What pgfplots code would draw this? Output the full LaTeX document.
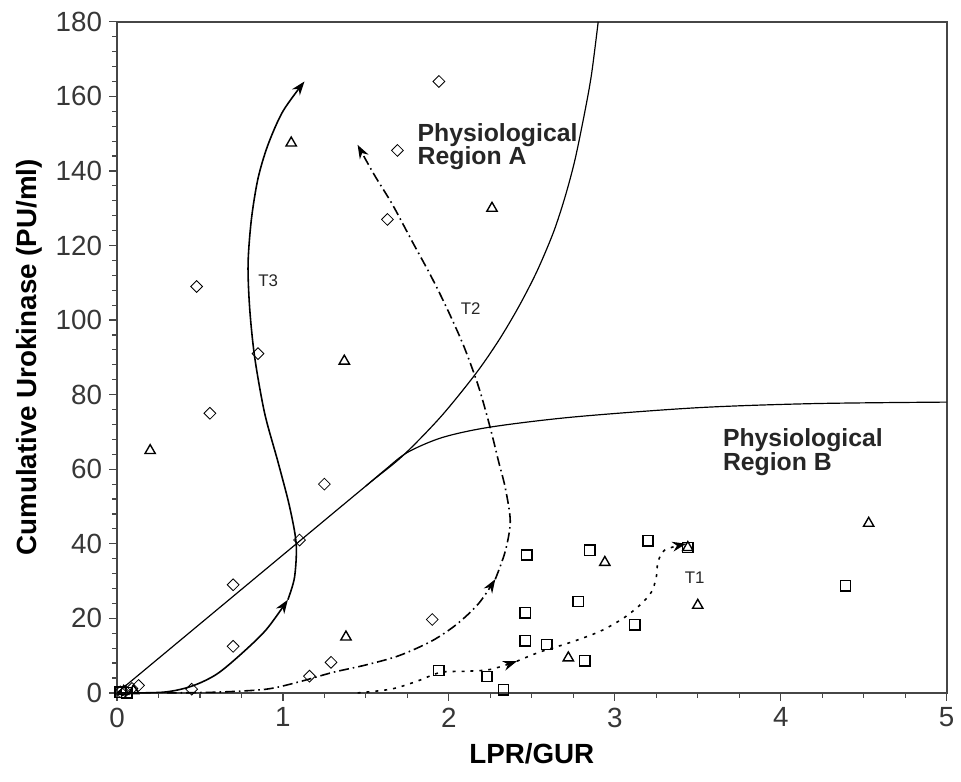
\documentclass[border=0pt]{standalone}
\usepackage{fontspec}
\setmainfont{Liberation Sans}
\usepackage{pgfplots}
\pgfplotsset{compat=1.18}
\usetikzlibrary{arrows.meta,calc}

\definecolor{axisgray}{RGB}{70,70,70}
\definecolor{labgray}{RGB}{55,55,55}

\begin{document}
\begin{tikzpicture}
\begin{axis}[
    scale only axis,
    width=418.5pt, height=338.5pt,
    xmin=0, xmax=5, ymin=0, ymax=180,
    xtick={0,1,2,3,4,5},
    ytick={0,20,...,180},
    minor x tick num=3,
    minor y tick num=4,
    tick pos=left,
    tick align=outside,
    major tick length=4pt,
    minor tick length=2.5pt,
    every tick/.style={axisgray, line width=0.6pt},
    axis line style={axisgray, line width=0.9pt},
    /pgf/number format/assume math mode=true,
    tick label style={font=\fontsize{14}{16}\selectfont, text=labgray},
    xlabel={\textbf{LPR/GUR}},
    ylabel={\textbf{Cumulative Urokinase (PU/ml)}},
    label style={font=\fontsize{14}{16}\selectfont},
    xlabel style={yshift=-1pt},
    clip=false,
    mk/.style={only marks, mark options={black, fill=white, line width=0.7pt}},
]

% boundary curves
\addplot[black, line width=0.6pt, smooth] coordinates {
  (0,0) (0.5,18.5) (1.0,37) (1.5,55.5) (1.72,63.5) (1.95,74) (2.16,85.5)
  (2.3,94.5) (2.42,103.5) (2.53,113) (2.63,123.5) (2.7,133) (2.76,143)
  (2.82,156) (2.86,166) (2.9,180)
};
\addplot[black, line width=0.6pt, smooth] coordinates {
  (1.5,55.5) (1.62,60) (1.75,64.5) (1.96,68.5) (2.25,71.3) (2.75,74)
  (3.5,76.5) (4.2,77.6) (5,78)
};

% trajectory T3
\addplot[black, line width=0.8pt, smooth, -{Stealth[length=7pt,width=5pt]}] coordinates {
  (0,0) (0.28,0.2) (0.45,1.8) (0.6,5) (0.75,10.5) (0.9,17) (1.03,25)
};
\addplot[black, line width=0.8pt, smooth, -{Stealth[length=7pt,width=5pt]}] coordinates {
  (1.03,25) (1.07,31) (1.08,40) (1.04,50) (0.97,62) (0.89,75) (0.83,90)
  (0.80,103) (0.79,115) (0.81,127) (0.85,138) (0.91,147) (1.0,156) (1.13,164)
};

% trajectory T2
\addplot[black, line width=0.8pt, smooth, dash pattern=on 5pt off 2pt on 0.8pt off 2pt,
  -{Stealth[length=7pt,width=5pt]}] coordinates {
  (0.3,0) (0.6,0.2) (0.9,1) (1.1,3) (1.3,5.5) (1.5,7.5) (1.7,10) (1.9,14)
  (2.05,18.5) (2.18,24) (2.28,30.5)
};
\addplot[black, line width=0.8pt, smooth, dash pattern=on 5pt off 2pt on 0.8pt off 2pt,
  -{Stealth[length=7pt,width=5pt]}] coordinates {
  (2.28,30.5) (2.34,38) (2.37,46) (2.34,55) (2.30,62) (2.25,71) (2.18,82)
  (2.09,93) (1.99,103) (1.89,112) (1.78,121) (1.66,131) (1.55,139) (1.45,147)
};

% trajectory T1
\addplot[black, line width=0.8pt, smooth, dash pattern=on 1.5pt off 3pt,
  -{Stealth[length=7pt,width=5pt]}] coordinates {
  (1.45,0) (1.65,1) (1.8,3) (1.95,5.5) (2.1,5.8) (2.25,6.3) (2.41,8.5)
};
\addplot[black, line width=0.8pt, smooth, dash pattern=on 1.5pt off 3pt,
  -{Stealth[length=7pt,width=5pt]}] coordinates {
  (2.41,8.5) (2.55,11) (2.73,13.5) (2.91,16.5) (3.05,20) (3.15,23.5)
  (3.22,27) (3.25,31) (3.26,35) (3.30,38.3) (3.43,40)
};

% diamonds
\addplot[mk, mark=square, mark size=2.1pt, mark options={rotate=45}] coordinates {
  (1.94,164) (1.69,145.5) (1.63,127) (0.48,109) (0.85,91) (0.56,75)
  (1.25,56) (1.10,41) (0.70,29) (0.70,12.5) (1.90,19.7) (1.29,8.2)
  (1.16,4.5) (0.45,1) (0.13,2) (0.09,1.2) (0.05,0.5) (0.02,0.3)
};
% triangles
\addplot[mk, mark=triangle, mark size=3pt] coordinates {
  (1.05,147.5) (2.26,130) (1.37,89) (0.20,65) (1.38,15) (2.94,35)
  (3.44,39) (3.50,23.5) (2.72,9.4) (4.53,45.5) (0.04,0.4) (0.1,0.6)
};
% squares
\addplot[mk, mark=square, mark size=2.6pt] coordinates {
  (2.47,37) (2.46,21.5) (2.46,14) (2.59,13) (2.82,8.6) (2.85,38.3)
  (2.78,24.5) (3.20,40.8) (3.12,18.3) (3.44,39) (4.39,28.7) (1.94,6)
  (2.23,4.4) (2.33,0.8) (0.02,0.2) (0.06,0)
};

% labels
\node[anchor=west, align=left, font=\fontsize{12.5}{12}\selectfont\bfseries,
  text=black!85] at (axis cs:1.77,146.5) {Physiological\\Region A};
\node[anchor=west, align=left, font=\fontsize{12.5}{12}\selectfont\bfseries,
  text=black!85] at (axis cs:3.61,64.5) {Physiological\\Region B};
\node[anchor=west, font=\fontsize{8.5}{10}\selectfont, text=black!85] at (axis cs:0.81,110.5) {T3};
\node[anchor=west, font=\fontsize{8.5}{10}\selectfont, text=black!85] at (axis cs:2.03,103) {T2};
\node[anchor=west, font=\fontsize{8.5}{10}\selectfont, text=black!85] at (axis cs:3.38,31) {T1};
\end{axis}
\path ($(current axis.south west)+(-59pt,-44.5pt)$) rectangle ($(current axis.north east)+(3pt,11pt)$);
\end{tikzpicture}
\end{document}
